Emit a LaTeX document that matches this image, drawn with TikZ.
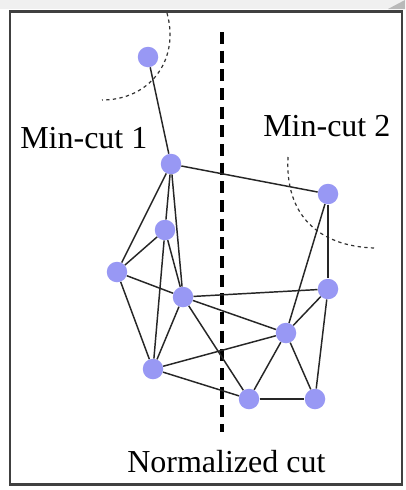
\documentclass[tikz,border=0pt]{standalone}
\usepackage{fontspec}
\setmainfont{Liberation Serif}
\begin{document}
\begin{tikzpicture}[x=0.75pt,y=-0.75pt,
  vtx/.style={circle,fill=vcol,inner sep=0pt,minimum size=20.5*0.75pt},
  edge/.style={line width=1.1pt,black!85},
  cutarc/.style={line width=0.9pt,dash pattern=on 2.5pt off 2.5pt,black!80},
  ncut/.style={line width=2.4pt,dash pattern=on 9pt off 5pt,black},
  lbl/.style={font=\fontsize{24pt}{27pt}\selectfont,inner sep=0pt,anchor=base west}]
\definecolor{vcol}{RGB}{152,152,244}
\useasboundingbox (0,0) rectangle (405,490);
\fill[white] (0,0) rectangle (405,490);
\fill[gray!12] (0,0) rectangle (405,9);
\fill[gray!55] (388,9) -- (405,0) -- (405,9) -- cycle;
\draw[line width=1.6pt,black!75] (10,11.5) rectangle (402,484.5);
% normalized cut
\coordinate (nt) at (222,32);
\coordinate (nb) at (222,432);
\draw[ncut] (nt) -- (nb);
% min-cut arcs
\coordinate (a1s) at (167,13);
\coordinate (a1e) at (102,100);
\draw[cutarc] (a1s) .. controls (180,60) and (150,100) .. (a1e);
\coordinate (a2s) at (288,157);
\coordinate (a2e) at (374,248);
\draw[cutarc] (a2s) .. controls (285,215) and (318,246) .. (a2e);
% vertices
\node[vtx] (A) at (148,57) {};
\node[vtx] (B) at (171,164) {};
\node[vtx] (C) at (328,194) {};
\node[vtx] (D) at (165,230) {};
\node[vtx] (E) at (117,272) {};
\node[vtx] (F) at (183,297) {};
\node[vtx] (G) at (328,289) {};
\node[vtx] (H) at (286,333) {};
\node[vtx] (I) at (153,369) {};
\node[vtx] (J) at (249,399) {};
\node[vtx] (K) at (315,399) {};
\foreach \u/\v in {A/B,B/C,B/E,B/D,B/F,D/E,D/F,D/I,E/F,E/I,F/I,F/G,F/H,F/J,I/H,I/J,H/J,H/K,H/G,H/C,C/G,G/K,J/K}
  \draw[edge] (\u) -- (\v);
% labels
\node[lbl] (m1) at (20,148) {Min-cut 1};
\node[lbl] (m2) at (263,136) {Min-cut 2};
\node[lbl] (nc) at (127,472) {Normalized cut};
\end{tikzpicture}
\end{document}
